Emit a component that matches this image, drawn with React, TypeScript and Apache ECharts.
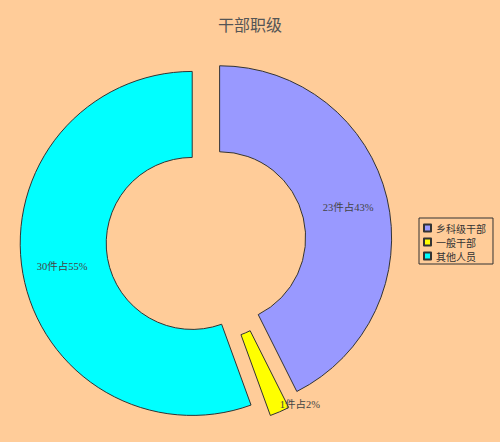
import React, { useRef, useEffect } from 'react';
import * as echarts from 'echarts';

// 干部职级 数据
const categories = ['乡科级干部', '一般干部', '其他人员'];
const counts = [23, 1, 30];
const percents = [43, 2, 55];
const colors = ['#9999FF', '#FFFF00', '#00FFFF'];

const App: React.FC = () => {
  const chartRef = useRef<HTMLDivElement>(null);

  useEffect(() => {
    document.body.style.margin = '0';
    if (!chartRef.current) return;
    const chart = echarts.init(chartRef.current, undefined, { renderer: 'svg' });

    const option = {
      animation: false,
      backgroundColor: '#FFCC99',
      title: {
        text: '干部职级',
        left: 'center',
        top: 11,
        textStyle: {
          fontSize: 16,
          fontWeight: 'normal',
          color: '#555',
          fontFamily: 'Noto Sans CJK SC',
        },
      },
      legend: {
        orient: 'vertical',
        left: 419,
        top: 218,
        data: categories,
        icon: 'rect',
        itemWidth: 7,
        itemHeight: 7,
        itemGap: 4,
        padding: [5, 7, 3, 4],
        borderColor: '#333',
        borderWidth: 1,
        selectedMode: false,
        textStyle: { fontSize: 10, color: '#333', fontFamily: 'Noto Sans CJK SC' },
      },
      series: [
        {
          name: '干部职级',
          type: 'pie',
          center: [206, 241],
          radius: [86, 172],
          startAngle: 90,
          selectedMode: 'multiple',
          selectedOffset: 14,
          avoidLabelOverlap: false,
          emphasis: { disabled: true },
          itemStyle: { borderColor: '#333', borderWidth: 1 },
          label: {
            show: true,
            position: 'inside',
            color: '#444',
            fontSize: 10.5,
            fontFamily: "'Liberation Serif', 'Noto Sans CJK SC'",
            formatter: (p: any) => `${counts[p.dataIndex]}件占${percents[p.dataIndex]}%`,
          },
          labelLine: { show: false },
          // 一般干部 的标签放在扇区外侧
          labelLayout: (p: any) => (p.dataIndex === 1 ? { dx: 36, dy: 29 } : {}),
          data: categories.map((name, i) => ({
            name,
            value: counts[i],
            selected: true,
            itemStyle: { color: colors[i] },
          })),
        },
      ],
    };
    chart.setOption(option);

    return () => {
      chart.dispose();
    };
  }, []);

  return <div ref={chartRef} style={{ width: 500, height: 442 }} />;
};

export default App;
